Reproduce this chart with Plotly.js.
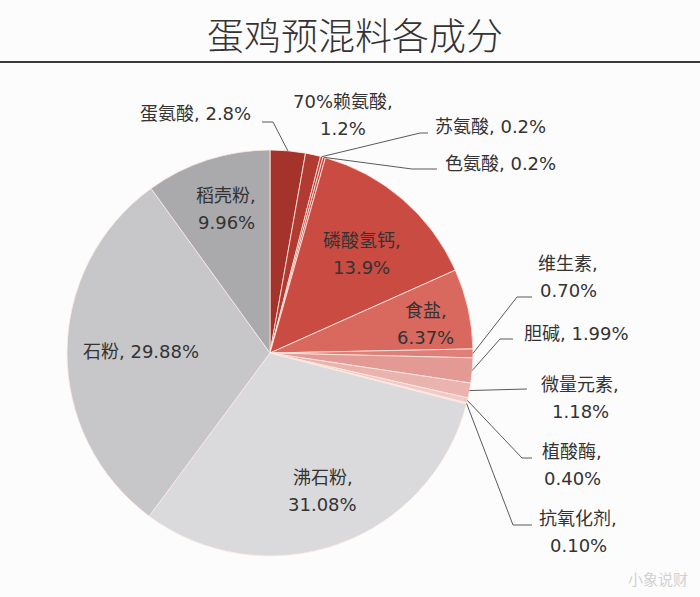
<!DOCTYPE html>
<html>
<head>
<meta charset="utf-8">
<script src="https://cdn.plot.ly/plotly-3.0.1.min.js"></script>
<style>
  html, body { margin: 0; padding: 0; background: #fcfcfc; }
  #chart { width: 700px; height: 597px; }
</style>
</head>
<body>
<div id="chart"></div>
<script>
// ---------------- data ----------------
const names = ['蛋氨酸', '70%赖氨酸', '苏氨酸', '色氨酸', '磷酸氢钙', '食盐', '维生素',
               '胆碱', '微量元素', '植酸酶', '抗氧化剂', '沸石粉', '石粉', '稻壳粉'];
const values = [2.8, 1.2, 0.2, 0.2, 13.9, 6.37, 0.70, 1.99, 1.18, 0.40, 0.10, 31.08, 29.88, 9.96];
const decimals = [1, 1, 1, 1, 1, 2, 2, 2, 2, 2, 2, 2, 2, 2];
const titleText = '蛋鸡预混料各成分';

// ---------------- styles ----------------
const colors = ['#a3332b', '#b23b31', '#bf4339', '#c4473d', '#c94b41', '#d9685f', '#de8078',
                '#e39a94', '#ebb3ae', '#f1c9c5', '#f4d6d3', '#dadadc', '#c7c7c9', '#aaaaac'];

const W = 700, H = 597;
const CX = 270, CY = 353, R = 203;   // pie geometry in px

// label layout (px). mode 'in': placed at slice mid-angle with radius fraction rf
// mode 'out': text at (tx,ty) with anchor; leader line through pts
const labelLayout = [
  {mode: 'out', tx: 253, ty: 113, anchor: 'right', oneLine: true, pts: [[273, 122], [262, 122]]},
  {mode: 'out', tx: 343, ty: 115, anchor: 'center', oneLine: false, pts: null},
  {mode: 'out', tx: 433, ty: 126, anchor: 'left', oneLine: true, pts: [[420, 133], [428, 133]]},
  {mode: 'out', tx: 443, ty: 164, anchor: 'left', oneLine: true, pts: [[412, 169], [437, 169]]},
  {mode: 'in', rf: 0.665, da: 2, oneLine: false},
  {mode: 'in', rf: 0.78, da: 2, oneLine: false},
  {mode: 'out', tx: 568, ty: 277, anchor: 'center', oneLine: false, pts: [[517, 297], [532, 297]]},
  {mode: 'out', tx: 522, ty: 333, anchor: 'left', oneLine: true, pts: [[500, 339], [513, 339]]},
  {mode: 'out', tx: 580, ty: 398, anchor: 'center', oneLine: false, pts: [[527, 389]]},
  {mode: 'out', tx: 572, ty: 465, anchor: 'center', oneLine: false, pts: [[522, 458], [532, 458]]},
  {mode: 'out', tx: 578, ty: 532, anchor: 'center', oneLine: false, pts: [[513, 525], [532, 525]]},
  {mode: 'in', rf: 0.73, da: -1.5, oneLine: false},
  {mode: 'in', rf: 0.635, da: 0.5, oneLine: true},
  {mode: 'in', rf: 0.74, da: 1, oneLine: false}
];

const labelFont = {family: '"DejaVu Sans", "Noto Sans CJK SC", sans-serif', size: 18, color: '#333333'};
const lineGap = 27;

const px = x => x / W;
const py = y => 1 - y / H;

// ---------------- build ----------------
const total = values.reduce((a, b) => a + b, 0);
let cum = 0;
const annotations = [];
const shapes = [];

values.forEach((v, i) => {
  const midFrac = (cum + v / 2) / total;
  cum += v;
  const L = labelLayout[i];
  const ang = midFrac * 2 * Math.PI;           // clockwise from 12 o'clock
  const valTxt = v.toFixed(decimals[i]) + '%';
  const lines = L.oneLine ? [names[i] + ', ' + valTxt] : [names[i] + ',', valTxt];

  let tx, ty, anchor;
  if (L.mode === 'in') {
    const a2 = ang + (L.da || 0) * Math.PI / 180;
    tx = CX + R * L.rf * Math.sin(a2);
    ty = CY - R * L.rf * Math.cos(a2);
    anchor = 'center';
  } else {
    tx = L.tx; ty = L.ty; anchor = L.anchor;
    if (L.pts) {
      const ex = CX + R * Math.sin(ang), ey = CY - R * Math.cos(ang);
      let path = 'M ' + px(ex) + ' ' + py(ey);
      L.pts.forEach(p => { path += ' L ' + px(p[0]) + ' ' + py(p[1]); });
      shapes.push({type: 'path', xref: 'paper', yref: 'paper', path: path,
                   line: {color: '#5a5a5a', width: 1}});
    }
  }
  const n = lines.length;
  lines.forEach((t, k) => {
    const yy = ty + (k - (n - 1) / 2) * lineGap;
    annotations.push({
      xref: 'paper', yref: 'paper', x: px(tx), y: py(yy),
      xanchor: anchor, yanchor: 'middle', text: t, showarrow: false,
      font: labelFont
    });
  });
});

// watermark
annotations.push({
  xref: 'paper', yref: 'paper', x: px(690), y: py(578), xanchor: 'right', yanchor: 'middle',
  text: '小象说财', showarrow: false,
  font: {family: '"Noto Sans CJK SC", sans-serif', size: 15, color: '#d2d2d2'}
});

// title underline
shapes.push({type: 'line', xref: 'paper', yref: 'paper', x0: 0, x1: 1, y0: py(62), y1: py(62),
             line: {color: '#3a3a3a', width: 2}});

const trace = {
  type: 'pie',
  labels: names,
  values: values,
  sort: false,
  direction: 'clockwise',
  rotation: 0,
  textinfo: 'none',
  hoverinfo: 'label+value',
  marker: {colors: colors, line: {color: 'rgba(255,235,230,0.8)', width: 1}},
  domain: {x: [px(CX - R), px(CX + R)], y: [py(CY + R), py(CY - R)]},
  automargin: false,
  showlegend: false
};

const layout = {
  width: W, height: H,
  margin: {l: 0, r: 0, t: 0, b: 0},
  paper_bgcolor: '#fcfcfc',
  plot_bgcolor: '#fcfcfc',
  title: {
    text: titleText, x: px(355), xanchor: 'center', y: py(37), yanchor: 'middle',
    xref: 'paper', yref: 'paper',
    font: {family: '"Noto Sans CJK SC", sans-serif', size: 37, color: '#333333', weight: 300}
  },
  showlegend: false,
  annotations: annotations,
  shapes: shapes
};

Plotly.newPlot('chart', [trace], layout, {displayModeBar: false, staticPlot: true});
</script>
</body>
</html>
